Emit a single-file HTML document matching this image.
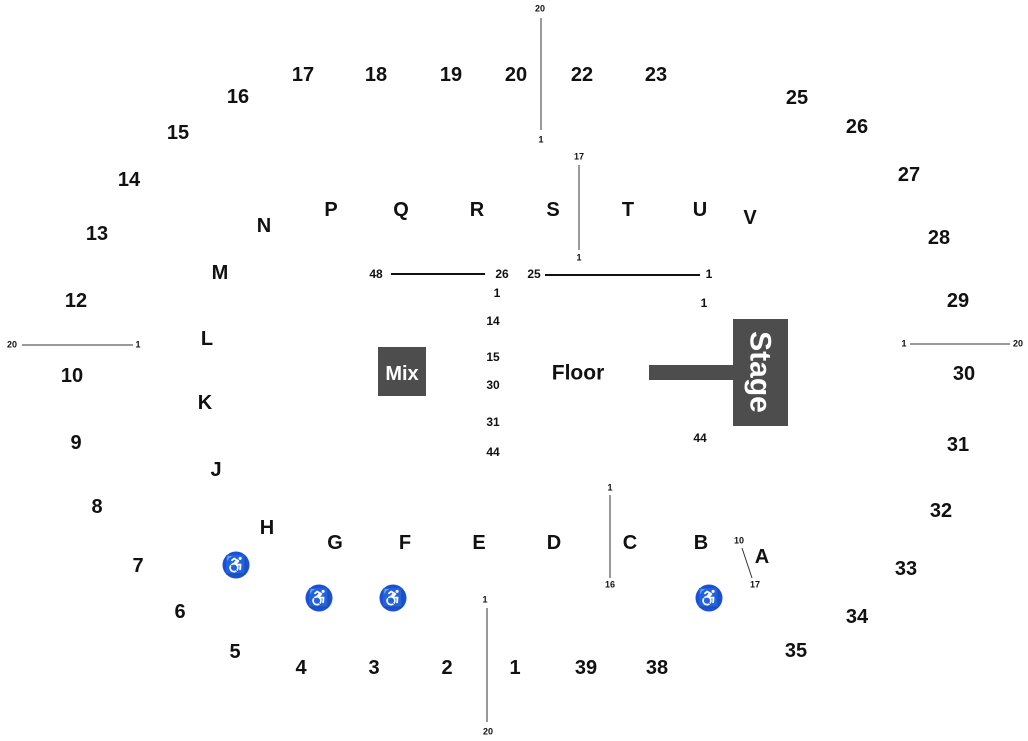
<!DOCTYPE html><html><head><meta charset="utf-8"><style>
body{margin:0;width:1028px;height:741px;background:#fff;position:relative;overflow:hidden;font-family:"Liberation Sans",Arial,sans-serif;font-weight:bold;color:#111}
.t{position:absolute;transform:translate(-50%,-50%);white-space:nowrap;line-height:1}
.b{font-size:20px}.s{font-size:12px}.x{font-size:9px}
.w{position:absolute;width:27px;height:27px;border-radius:50%;background:#1c4fd8;transform:translate(-50%,-50%)}
</style></head><body>
<svg width="1028" height="741" style="position:absolute;left:0;top:0">
<g stroke="#333" stroke-width="1">
<line x1="541" y1="18" x2="541" y2="130"/><line x1="579" y1="165" x2="579" y2="250"/>
<line x1="22" y1="345" x2="133" y2="345"/><line x1="910" y1="344" x2="1010" y2="344"/>
<line x1="487" y1="608" x2="487" y2="722"/><line x1="610" y1="495" x2="610" y2="578"/>
<line x1="742" y1="548" x2="752" y2="578"/>
</g>
<g stroke="#111" stroke-width="2"><line x1="391" y1="274" x2="485" y2="274"/><line x1="545" y1="275" x2="700" y2="275"/></g>
<rect x="378" y="347" width="48" height="49" fill="#4d4d4d"/>
<rect x="733" y="319" width="55" height="107" fill="#4d4d4d"/>
<rect x="649" y="365" width="86" height="15" fill="#4d4d4d"/>
<text x="402" y="380" fill="#fff" font-size="20" font-weight="bold" text-anchor="middle" font-family="Liberation Sans">Mix</text>
<text transform="translate(760,372) rotate(90)" fill="#fff" font-size="30" font-weight="bold" text-anchor="middle" dominant-baseline="central" font-family="Liberation Sans">Stage</text>
</svg>
<div class="t b" style="left:303px;top:75px">17</div><div class="t b" style="left:376px;top:75px">18</div><div class="t b" style="left:451px;top:75px">19</div><div class="t b" style="left:516px;top:75px">20</div><div class="t b" style="left:582px;top:75px">22</div><div class="t b" style="left:656px;top:75px">23</div>
<div class="t b" style="left:797px;top:98px">25</div><div class="t b" style="left:857px;top:127px">26</div><div class="t b" style="left:909px;top:175px">27</div><div class="t b" style="left:939px;top:238px">28</div><div class="t b" style="left:958px;top:301px">29</div><div class="t b" style="left:964px;top:374px">30</div><div class="t b" style="left:958px;top:445px">31</div><div class="t b" style="left:941px;top:511px">32</div><div class="t b" style="left:906px;top:569px">33</div><div class="t b" style="left:857px;top:617px">34</div><div class="t b" style="left:796px;top:651px">35</div>
<div class="t b" style="left:238px;top:97px">16</div><div class="t b" style="left:178px;top:133px">15</div><div class="t b" style="left:129px;top:180px">14</div><div class="t b" style="left:97px;top:234px">13</div><div class="t b" style="left:76px;top:301px">12</div><div class="t b" style="left:72px;top:376px">10</div><div class="t b" style="left:76px;top:443px">9</div><div class="t b" style="left:97px;top:507px">8</div><div class="t b" style="left:138px;top:566px">7</div><div class="t b" style="left:180px;top:612px">6</div><div class="t b" style="left:235px;top:652px">5</div>
<div class="t b" style="left:301px;top:668px">4</div><div class="t b" style="left:374px;top:668px">3</div><div class="t b" style="left:447px;top:668px">2</div><div class="t b" style="left:515px;top:668px">1</div><div class="t b" style="left:586px;top:668px">39</div><div class="t b" style="left:657px;top:668px">38</div>
<div class="t b" style="left:264px;top:226px">N</div><div class="t b" style="left:331px;top:210px">P</div><div class="t b" style="left:401px;top:210px">Q</div><div class="t b" style="left:477px;top:210px">R</div><div class="t b" style="left:553px;top:210px">S</div><div class="t b" style="left:628px;top:210px">T</div><div class="t b" style="left:700px;top:210px">U</div><div class="t b" style="left:750px;top:218px">V</div>
<div class="t b" style="left:220px;top:273px">M</div><div class="t b" style="left:207px;top:339px">L</div><div class="t b" style="left:205px;top:403px">K</div><div class="t b" style="left:216px;top:470px">J</div><div class="t b" style="left:267px;top:528px">H</div>
<div class="t b" style="left:335px;top:543px">G</div><div class="t b" style="left:405px;top:543px">F</div><div class="t b" style="left:479px;top:543px">E</div><div class="t b" style="left:554px;top:543px">D</div><div class="t b" style="left:630px;top:543px">C</div><div class="t b" style="left:701px;top:543px">B</div><div class="t b" style="left:762px;top:557px">A</div>
<div class="t" style="left:578px;top:373px;font-size:21px">Floor</div>
<div class="t s" style="left:376px;top:274px">48</div><div class="t s" style="left:502px;top:274px">26</div><div class="t s" style="left:497px;top:293px">1</div><div class="t s" style="left:493px;top:321px">14</div><div class="t s" style="left:493px;top:357px">15</div><div class="t s" style="left:493px;top:385px">30</div><div class="t s" style="left:493px;top:422px">31</div><div class="t s" style="left:493px;top:452px">44</div>
<div class="t s" style="left:534px;top:274px">25</div><div class="t s" style="left:709px;top:274px">1</div><div class="t s" style="left:704px;top:303px">1</div><div class="t s" style="left:700px;top:438px">44</div>
<div class="t x" style="left:540px;top:9px">20</div><div class="t x" style="left:541px;top:140px">1</div><div class="t x" style="left:579px;top:157px">17</div><div class="t x" style="left:579px;top:258px">1</div>
<div class="t x" style="left:12px;top:345px">20</div><div class="t x" style="left:138px;top:345px">1</div><div class="t x" style="left:904px;top:344px">1</div><div class="t x" style="left:1018px;top:344px">20</div>
<div class="t x" style="left:485px;top:600px">1</div><div class="t x" style="left:488px;top:732px">20</div><div class="t x" style="left:610px;top:488px">1</div><div class="t x" style="left:610px;top:585px">16</div><div class="t x" style="left:739px;top:541px">10</div><div class="t x" style="left:755px;top:585px">17</div>
<div class="w" style="left:236px;top:565px"></div><div class="w" style="left:319px;top:598px"></div><div class="w" style="left:393px;top:598px"></div><div class="w" style="left:709px;top:598px"></div>
<div class="t" style="left:236px;top:565px;color:#fff;font-size:18px">♿</div><div class="t" style="left:319px;top:598px;color:#fff;font-size:18px">♿</div><div class="t" style="left:393px;top:598px;color:#fff;font-size:18px">♿</div><div class="t" style="left:709px;top:598px;color:#fff;font-size:18px">♿</div>
</body></html>
